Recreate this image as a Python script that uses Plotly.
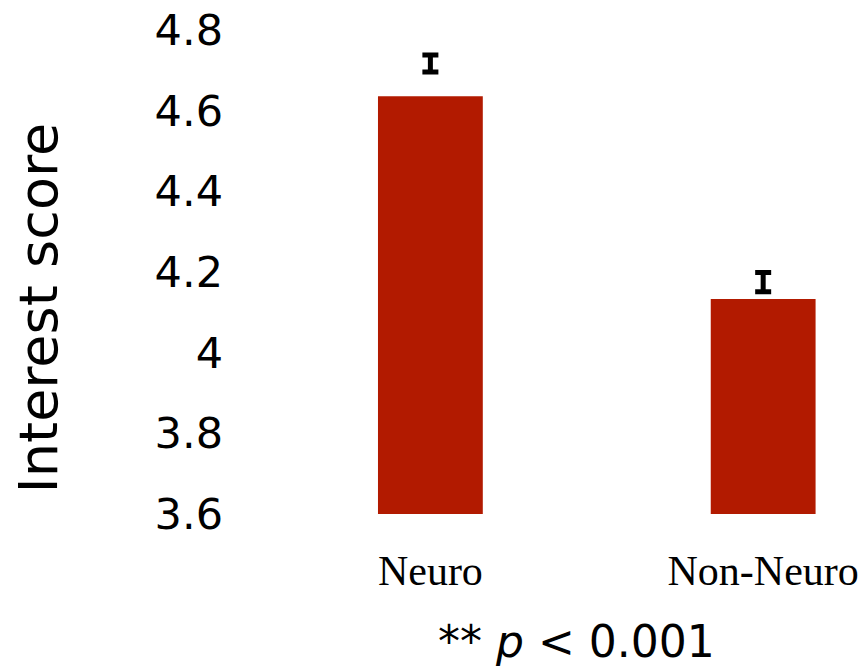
import plotly.graph_objects as go

categories = ["Neuro", "Non-Neuro"]
means = [4.636, 4.133]
marker_centers = [4.717, 4.175]
marker_errors = [0.021, 0.024]
tick_vals = [3.6, 3.8, 4.0, 4.2, 4.4, 4.6, 4.8]
tick_text = ["3.6", "3.8", "4", "4.2", "4.4", "4.6", "4.8"]

BAR_COLOR = "#B21A00"

fig = go.Figure()
fig.add_trace(go.Bar(
    x=categories, y=means, width=0.315,
    marker=dict(color=BAR_COLOR, line=dict(width=0)),
    showlegend=False, hoverinfo="skip",
))
fig.add_trace(go.Scatter(
    x=categories, y=marker_centers, mode="markers",
    marker=dict(size=1, color="rgba(0,0,0,0)"),
    error_y=dict(type="data", array=marker_errors, visible=True,
                 color="black", thickness=5, width=8),
    showlegend=False, hoverinfo="skip",
))

fig.update_layout(
    width=863, height=668,
    margin=dict(l=264, r=0, t=30, b=154),
    paper_bgcolor="white", plot_bgcolor="white",
    xaxis=dict(
        type="category", range=[-0.5, 1.3],
        showgrid=False, zeroline=False, showline=False, ticks="",
        tickfont=dict(family="Liberation Serif", size=42, color="black"),
        ticklabelstandoff=28,
    ),
    yaxis=dict(
        range=[3.6, 4.8], tickvals=tick_vals, ticktext=tick_text,
        showgrid=False, zeroline=False, showline=False, ticks="",
        tickfont=dict(family="DejaVu Sans", size=43, color="black"),
        ticklabelstandoff=40,
    ),
    annotations=[
        dict(text="Interest score", textangle=-90, xref="paper", yref="paper",
             x=-0.377, y=0.4256, xanchor="center", yanchor="middle",
             showarrow=False,
             font=dict(family="DejaVu Sans", size=54, color="black")),
        dict(text="** <i>p</i> &lt; 0.001", xref="paper", yref="paper",
             x=0.521, y=-0.318, xanchor="center", yanchor="bottom",
             showarrow=False, borderpad=0,
             font=dict(family="DejaVu Sans", size=44, color="black")),
    ],
)

post = "document.body.style.margin='0';"
fig.write_html("out.html", post_script=post, config={"displayModeBar": False})
